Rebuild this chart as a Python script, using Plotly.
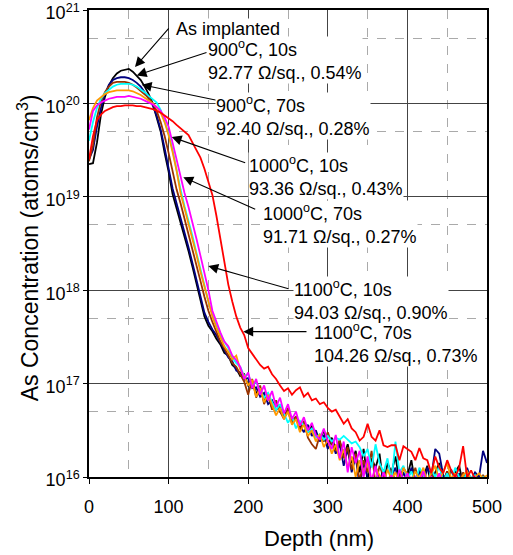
import plotly.graph_objects as go

# depth grid (nm)
depth = list(range(0, 505, 5))

# log10 of As concentration (atoms/cm3), one row per 50 nm
log_as_implanted = [
    19.35, 19.36, 19.58, 19.88, 20.07, 20.19, 20.27, 20.32, 20.35, 20.36,
    20.37, 20.34, 20.30, 20.25, 20.18, 20.10, 20.00, 19.85, 19.70, 19.47,
    19.27, 19.03, 18.88, 18.74, 18.58, 18.42, 18.25, 18.07, 17.92, 17.72,
    17.62, 17.56, 17.48, 17.42, 17.33, 17.30, 17.20, 17.16, 17.08, 17.10,
    16.98, 17.02, 16.90, 16.93, 16.82, 16.86, 16.74, 16.80, 16.70, 16.66,
    16.72, 16.60, 16.64, 16.52, 16.58, 16.48, 16.55, 16.45, 16.40, 16.50,
    16.35, 16.42, 16.30, 16.38, 16.22, 16.35, 16.15, 16.28, 16.05, 16.30,
    15.95, 16.20, 16.10, 16.25, 15.90, 16.15, 16.05, 16.22, 15.95, 16.10,
    16.02, 16.18, 15.92, 16.08, 16.00, 16.12, 15.90, 16.05, 16.15, 15.95,
    16.06, 15.90, 16.05, 16.12, 15.92, 16.02, 15.90, 16.05, 15.95, 16.02,
    15.92]
log_900_10 = [
    19.40, 19.50, 19.75, 19.95, 20.10, 20.20, 20.25, 20.27, 20.28, 20.28,
    20.27, 20.25, 20.22, 20.18, 20.12, 20.05, 19.98, 19.87, 19.72, 19.52,
    19.32, 19.09, 18.93, 18.78, 18.62, 18.46, 18.29, 18.11, 17.95, 17.76,
    17.66, 17.58, 17.52, 17.44, 17.36, 17.28, 17.24, 17.14, 17.12, 17.04,
    17.06, 16.95, 16.96, 16.86, 16.90, 16.78, 16.82, 16.72, 16.76, 16.64,
    16.70, 16.58, 16.62, 16.55, 16.48, 16.56, 16.44, 16.50, 16.38, 16.45,
    16.30, 16.40, 16.25, 16.35, 16.12, 16.30, 16.05, 16.22, 15.90, 16.15,
    16.00, 15.90, 16.12, 15.95, 16.08, 15.92, 16.02, 16.10, 15.90, 16.05,
    15.95, 16.10, 15.98, 16.06, 15.92, 16.10, 16.00, 16.30, 16.25, 16.02,
    15.92, 16.08, 15.95, 16.04, 15.90, 16.10, 15.96, 16.05, 16.00, 16.28,
    16.15]
log_900_70 = [
    19.38, 19.55, 19.85, 20.02, 20.12, 20.18, 20.22, 20.23, 20.23, 20.23,
    20.22, 20.20, 20.17, 20.13, 20.09, 20.06, 20.00, 19.92, 19.80, 19.65,
    19.47, 19.28, 19.08, 18.93, 18.77, 18.60, 18.44, 18.26, 18.10, 17.93,
    17.78, 17.66, 17.55, 17.45, 17.38, 17.30, 17.22, 17.18, 17.10, 17.02,
    16.88, 17.05, 16.85, 16.98, 16.78, 16.90, 16.72, 16.82, 16.70, 16.62,
    16.74, 16.58, 16.65, 16.50, 16.60, 16.42, 16.35, 16.30, 16.45, 16.38,
    16.48, 16.35, 16.28, 16.40, 16.20, 16.32, 16.08, 16.25, 15.95, 16.18,
    16.05, 16.28, 15.92, 16.12, 16.02, 15.90, 16.08, 15.95, 16.04, 15.92,
    16.05, 15.96, 16.10, 15.92, 16.02, 15.95, 16.08, 15.90, 16.00, 15.94,
    16.06, 15.92, 16.02, 15.95, 16.05, 15.90, 16.00, 15.94, 15.90, 16.02,
    15.95]
log_1000_10 = [
    19.60, 19.80, 19.95, 20.05, 20.11, 20.15, 20.18, 20.20, 20.21, 20.21,
    20.21, 20.20, 20.18, 20.15, 20.12, 20.08, 20.04, 20.01, 19.93, 19.81,
    19.68, 19.50, 19.28, 19.08, 18.90, 18.75, 18.58, 18.40, 18.22, 18.04,
    17.88, 17.74, 17.62, 17.52, 17.45, 17.38, 17.28, 17.22, 17.18, 17.08,
    17.10, 16.98, 17.02, 16.92, 16.85, 16.90, 16.80, 16.72, 16.78, 16.68,
    16.58, 16.65, 16.52, 16.60, 16.55, 16.48, 16.52, 16.42, 16.46, 16.40,
    16.44, 16.38, 16.42, 16.40, 16.44, 16.40, 16.36, 16.38, 16.32, 16.22,
    16.30, 16.10, 16.35, 16.15, 16.05, 16.20, 15.95, 16.38, 16.05, 16.12,
    15.98, 16.06, 15.94, 16.10, 16.02, 15.92, 16.08, 16.00, 16.12, 15.95,
    16.04, 15.92, 16.10, 16.00, 15.95, 16.06, 15.98, 16.02, 15.92, 16.00,
    15.96]
log_1000_70 = [
    19.82, 19.95, 20.03, 20.07, 20.10, 20.12, 20.13, 20.14, 20.14, 20.14,
    20.14, 20.13, 20.11, 20.09, 20.06, 20.03, 20.00, 19.96, 19.90, 19.80,
    19.66, 19.48, 19.28, 19.04, 18.88, 18.72, 18.55, 18.38, 18.20, 18.04,
    17.88, 17.72, 17.60, 17.50, 17.40, 17.34, 17.26, 17.30, 17.15, 17.08,
    16.98, 17.04, 16.86, 16.95, 16.80, 16.88, 16.76, 16.66, 16.74, 16.62,
    16.70, 16.56, 16.62, 16.48, 16.56, 16.44, 16.50, 16.38, 16.46, 16.32,
    16.40, 16.25, 16.35, 16.18, 16.30, 16.10, 16.22, 16.00, 16.18, 16.06,
    16.15, 15.95, 16.10, 16.02, 15.92, 16.08, 15.98, 16.05, 15.92, 16.10,
    16.02, 15.95, 16.06, 15.98, 16.10, 15.95, 16.04, 16.12, 15.96, 16.05,
    16.15, 15.98, 16.04, 15.94, 16.02, 16.06, 15.95, 16.00, 16.04, 15.98,
    16.02]
log_1100_10 = [
    19.72, 19.92, 19.98, 20.01, 20.03, 20.05, 20.06, 20.07, 20.07, 20.07,
    20.08, 20.07, 20.06, 20.05, 20.03, 20.01, 19.99, 19.96, 19.92, 19.85,
    19.75, 19.58, 19.40, 19.20, 19.04, 18.89, 18.73, 18.55, 18.37, 18.19,
    18.00, 17.78, 17.66, 17.55, 17.45, 17.40, 17.30, 17.25, 17.18, 17.05,
    17.12, 16.95, 17.05, 16.88, 16.98, 16.82, 16.92, 16.75, 16.85, 16.68,
    16.78, 16.62, 16.70, 16.55, 16.64, 16.50, 16.58, 16.45, 16.40, 16.52,
    16.38, 16.30, 16.45, 16.20, 16.38, 16.05, 16.32, 16.15, 16.28, 16.00,
    16.22, 15.95, 16.12, 15.90, 16.05, 15.95, 16.02, 15.90, 16.08, 15.96,
    16.04, 15.92, 16.00, 15.94, 16.06, 15.90, 16.00, 15.95, 16.04, 15.90,
    15.98, 15.92, 16.02, 15.94, 15.90, 15.98, 15.92, 16.00, 15.94, 15.90,
    15.96]
log_1100_70 = [
    19.40, 19.65, 19.82, 19.88, 19.92, 19.94, 19.96, 19.97, 19.97, 19.98,
    19.98, 19.98, 19.97, 19.97, 19.96, 19.95, 19.94, 19.92, 19.90, 19.87,
    19.84, 19.81, 19.77, 19.73, 19.69, 19.66, 19.58, 19.50, 19.42, 19.30,
    19.16, 19.02, 18.80, 18.55, 18.30, 18.06, 17.88, 17.72, 17.60, 17.52,
    17.38, 17.32, 17.26, 17.20, 17.16, 17.18, 17.10, 17.05, 16.98, 16.92,
    16.95, 16.88, 16.93, 16.96, 16.86, 16.90, 16.82, 16.84, 16.78, 16.80,
    16.74, 16.70, 16.72, 16.64, 16.57, 16.62, 16.52, 16.48, 16.39, 16.43,
    16.57, 16.43, 16.39, 16.50, 16.34, 16.32, 16.34, 16.34, 16.18, 16.33,
    16.30, 16.27, 16.18, 16.31, 16.20, 16.18, 16.04, 16.22, 16.10, 16.04,
    16.18, 16.07, 16.00, 16.10, 16.33, 16.00, 16.07, 15.98, None, None,
    None]

series_names = ["As implanted", "900°C, 10s", "900°C, 70s", "1000°C, 10s",
                "1000°C, 70s", "1100°C, 10s", "1100°C, 70s"]
series_logs = [log_as_implanted, log_900_10, log_900_70, log_1000_10,
               log_1000_70, log_1100_10, log_1100_70]
series_colors = ["#000000", "#000080", "#993300", "#00FFFF",
                 "#FF9900", "#FF00FF", "#FF0000"]

# labels next to the curves
label_texts = [
    "As implanted",
    "900<sup>o</sup>C, 10s<br>92.77 Ω/sq., 0.54%",
    "900<sup>o</sup>C, 70s<br>92.40 Ω/sq., 0.28%",
    "1000<sup>o</sup>C, 10s<br>93.36 Ω/sq., 0.43%",
    "1000<sup>o</sup>C, 70s<br>91.71 Ω/sq., 0.27%",
    "1100<sup>o</sup>C, 10s<br>94.03 Ω/sq., 0.90%",
    "1100<sup>o</sup>C, 70s<br>104.26 Ω/sq., 0.73%",
]

y_tickvals = [1e16, 1e17, 1e18, 1e19, 1e20, 1e21]
y_ticktext = ["10<sup>16</sup>", "10<sup>17</sup>", "10<sup>18</sup>",
              "10<sup>19</sup>", "10<sup>20</sup>", "10<sup>21</sup>"]
y_minor = [5e16, 5e17, 5e18, 5e19, 5e20]

FONT = "Liberation Sans, Arial, sans-serif"

fig = go.Figure()
for name, logs, color in zip(series_names, series_logs, series_colors):
    conc = [10 ** v if v is not None else None for v in logs]
    fig.add_trace(go.Scatter(x=depth, y=conc, name=name, mode="lines",
                             line=dict(color=color, width=1.8)))

# label positions (depth nm, log10 conc) and arrow tail/head
label_pos = [(108, 20.80), (148.2, 20.47), (158.3, 19.87), (199.7, 19.22),
             (217.3, 18.71), (256.3, 17.90), (281.4, 17.43)]
arrow_tail = [(101.8, 20.82), (149.5, 20.55), (168.3, 20.02), (198.1, 19.36),
              (210.7, 18.86), (252.5, 18.01), (275.1, 17.556)]
arrow_head = [(57.8, 20.39), (59.9, 20.30), (66.2, 20.20), (103.9, 19.64),
              (118.5, 19.21), (149.9, 18.26), (193.8, 17.556)]

for (tx, ty), (hx, hy) in zip(arrow_tail, arrow_head):
    fig.add_annotation(x=hx, y=hy, ax=tx, ay=ty, xref="x", yref="y",
                       axref="x", ayref="y", text="", showarrow=True,
                       arrowhead=2, arrowsize=1.8, arrowwidth=1.1,
                       arrowcolor="black")

# drawn last-to-first so upper labels sit on top of lower ones
for text, (lx, ly) in reversed(list(zip(label_texts, label_pos))):
    fig.add_annotation(x=lx, y=ly, xref="x", yref="y", text=text,
                       showarrow=False, xanchor="left", yanchor="middle",
                       align="left", bgcolor="white", borderpad=0,
                       font=dict(family=FONT, size=18, color="black"))

# axis titles
fig.add_annotation(x=0.578, y=-0.131, xref="paper", yref="paper",
                   xanchor="center", yanchor="middle",
                   text="Depth (nm)", showarrow=False,
                   font=dict(family=FONT, size=22, color="black"))
fig.add_annotation(x=-0.153, y=0.49, xref="paper", yref="paper",
                   xanchor="center", yanchor="middle",
                   text="As Concentration (atoms/cm<sup>3</sup>)",
                   textangle=-90, showarrow=False,
                   font=dict(family=FONT, size=23, color="black"))

fig.update_layout(
    width=513, height=555,
    margin=dict(l=89, r=26, t=10, b=78, autoexpand=False),
    plot_bgcolor="white", paper_bgcolor="white",
    showlegend=False,
    font=dict(family=FONT, size=18, color="black"),
    xaxis=dict(range=[0, 500], dtick=100, tick0=0, automargin=False,
               showline=True, linecolor="black", linewidth=1.5, mirror=True,
               ticks="outside", ticklen=5, tickcolor="black",
               showgrid=True, gridcolor="#444444", gridwidth=1.3,
               zeroline=False, ticklabelstandoff=8,
               ticklabeloverflow="allow",
               minor=dict(dtick=50, tick0=0, showgrid=True,
                          gridcolor="#aaaaaa", griddash="dash", gridwidth=1)),
    yaxis=dict(type="log", range=[16, 21.0001], automargin=False,
               tickmode="array", tickvals=y_tickvals, ticktext=y_ticktext,
               showline=True, linecolor="black", linewidth=1.5, mirror=True,
               ticks="outside", ticklen=4, tickcolor="black",
               showgrid=True, gridcolor="#444444", gridwidth=1.3,
               zeroline=False, ticklabeloverflow="allow", ticklabelshift=3,
               minor=dict(tickmode="array", tickvals=y_minor, showgrid=True,
                          gridcolor="#aaaaaa", griddash="dash", gridwidth=1)),
)

# page body has an 8px default margin; drop it so the figure sits at 0,0
fig.write_html("out.html", config={"displayModeBar": False},
               post_script="document.body.style.margin='0px';")
